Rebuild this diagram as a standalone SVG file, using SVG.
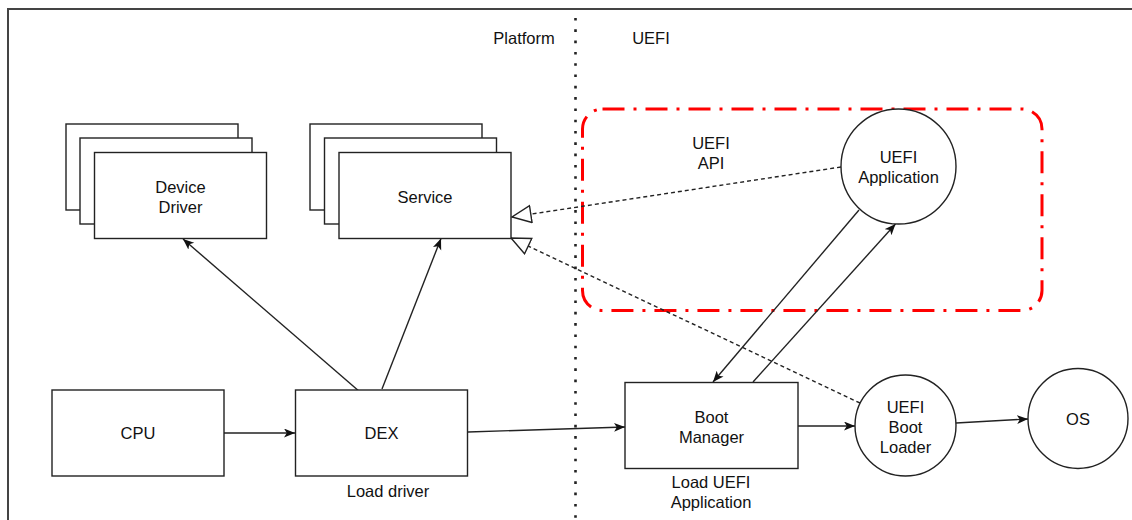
<svg xmlns="http://www.w3.org/2000/svg" width="1132" height="520" viewBox="0 0 1132 520">
  <style>
    .box { fill: #ffffff; stroke: #222222; stroke-width: 1.4; }
    .lbl { font-family: "Liberation Sans", Arial, Helvetica, sans-serif; font-size: 16.5px; fill: #111111; text-anchor: middle; }
    .edge { fill: none; stroke: #222222; stroke-width: 1.4; }
    .dash { fill: none; stroke: #222222; stroke-width: 1.4; stroke-dasharray: 4 3; }
  </style>
  <defs>
    <marker id="arrow" markerUnits="userSpaceOnUse" markerWidth="12" markerHeight="10" refX="11" refY="4.5" orient="auto">
      <path d="M0,0 L11,4.5 L0,9 L2.8,4.5 Z" fill="#111111"/>
    </marker>
    <marker id="hollow" markerUnits="userSpaceOnUse" markerWidth="22" markerHeight="20" refX="20" refY="9.5" orient="auto">
      <path d="M1,1 L20,9.5 L1,18 Z" fill="#ffffff" stroke="#222222" stroke-width="1.4"/>
    </marker>
  </defs>

  <rect width="1132" height="520" fill="#ffffff"/>

  <!-- outer frame -->
  <path d="M8,520 V9 H1132" fill="none" stroke="#444444" stroke-width="2"/>

  <!-- platform / UEFI separator -->
  <line x1="575.5" y1="18" x2="575.5" y2="520" stroke="#222222" stroke-width="2.6" stroke-dasharray="2.6 8.7"/>
  <text class="lbl" x="524" y="44">Platform</text>
  <text class="lbl" x="651" y="44">UEFI</text>

  <!-- UEFI API region -->
  <g id="uefi-api">
    <rect x="582.5" y="109" width="459.5" height="201.5" rx="20" ry="20" fill="none" stroke="#ff0000" stroke-width="3" stroke-dasharray="22 9 3 9"/>
    <text class="lbl" x="711" y="149">UEFI</text>
    <text class="lbl" x="711" y="169">API</text>
  </g>

  <!-- connectors -->
  <g id="connectors">
    <path class="edge" d="M224,433 L295,433" marker-end="url(#arrow)"/>
    <path class="edge" d="M360,392 L183,239" marker-end="url(#arrow)"/>
    <path class="edge" d="M382,389 L441,238.5" marker-end="url(#arrow)"/>
    <path class="edge" d="M468,432 L625,427" marker-end="url(#arrow)"/>
    <path class="edge" d="M798,426 L855,426" marker-end="url(#arrow)"/>
    <path class="edge" d="M956,423 L1028,419" marker-end="url(#arrow)"/>
    <path class="edge" d="M859,210 L713,382" marker-end="url(#arrow)"/>
    <path class="edge" d="M753,382 L895.5,224" marker-end="url(#arrow)"/>
    <path class="dash" d="M841,167 L512,217" marker-end="url(#hollow)"/>
    <path class="dash" d="M860,403 L511,238" marker-end="url(#hollow)"/>
  </g>

  <!-- platform nodes -->
  <g id="device-driver">
    <rect class="box" x="66" y="124" width="172" height="86"/>
    <rect class="box" x="80" y="138" width="172" height="86"/>
    <rect class="box" x="94.5" y="152.5" width="172" height="86"/>
    <text class="lbl" x="180.5" y="193">Device</text>
    <text class="lbl" x="180.5" y="213">Driver</text>
  </g>

  <g id="service">
    <rect class="box" x="310" y="124" width="172" height="86"/>
    <rect class="box" x="324.5" y="138" width="172" height="86"/>
    <rect class="box" x="339" y="152.5" width="172" height="86"/>
    <text class="lbl" x="425" y="203">Service</text>
  </g>

  <g id="cpu">
    <rect class="box" x="52" y="390" width="172" height="86"/>
    <text class="lbl" x="138" y="439">CPU</text>
  </g>

  <g id="dex">
    <rect class="box" x="295.5" y="390" width="172" height="86"/>
    <text class="lbl" x="381.5" y="439">DEX</text>
    <text class="lbl" x="388" y="497">Load driver</text>
  </g>

  <!-- UEFI nodes -->
  <g id="uefi-application">
    <circle class="box" cx="898.5" cy="166.5" r="57.5"/>
    <text class="lbl" x="898.5" y="163">UEFI</text>
    <text class="lbl" x="898.5" y="183">Application</text>
  </g>

  <g id="boot-manager">
    <rect class="box" x="625" y="382.5" width="173" height="86"/>
    <text class="lbl" x="711.5" y="422.5">Boot</text>
    <text class="lbl" x="711.5" y="442.5">Manager</text>
    <text class="lbl" x="711" y="487.5">Load UEFI</text>
    <text class="lbl" x="711" y="507.5">Application</text>
  </g>

  <g id="uefi-boot-loader">
    <circle class="box" cx="905.5" cy="425.5" r="50.5"/>
    <text class="lbl" x="905.5" y="413">UEFI</text>
    <text class="lbl" x="905.5" y="433">Boot</text>
    <text class="lbl" x="905.5" y="453">Loader</text>
  </g>

  <g id="os">
    <circle class="box" cx="1078" cy="418.5" r="50"/>
    <text class="lbl" x="1078" y="424.5">OS</text>
  </g>
</svg>
